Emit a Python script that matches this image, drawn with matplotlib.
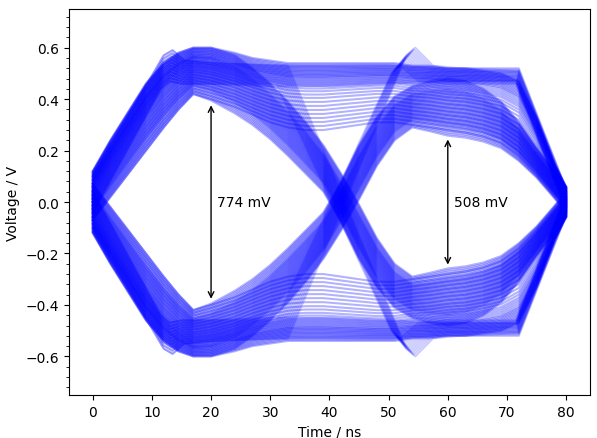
import matplotlib
matplotlib.use("Agg")
import matplotlib.pyplot as plt
from matplotlib.ticker import AutoMinorLocator

# eye diagram, two bit periods (0-80 ns), upper traces only, lower half is the mirror

# curved rise / fall at 42 ns (two edge traces: early crossing + late crossing)
T_HL = [0, 3, 6, 9, 12, 14.5, 17, 20, 24, 27, 30, 33, 36, 39, 42, 45, 48, 51, 54, 57, 60, 63, 66, 69, 72, 75, 78, 80]
V_HL_EARLY = [-0.07, 0.02, 0.11, 0.20, 0.29, 0.36, 0.42, 0.395, 0.345, 0.30, 0.245, 0.18, 0.11, 0.04,
              -0.08, -0.22, -0.33, -0.41, -0.45, -0.47, -0.48, -0.47, -0.44, -0.39, -0.31, -0.21, -0.12, -0.06]
V_HL_LATE = [0.12, 0.24, 0.35, 0.46, 0.54, 0.58, 0.60, 0.60, 0.57, 0.52, 0.46, 0.39, 0.31, 0.22,
             0.11, -0.01, -0.14, -0.24, -0.29, -0.275, -0.258, -0.25, -0.235, -0.21, -0.16, -0.095, -0.015, 0.04]

# curved, stays high through the middle (sag around 40 ns)
V_HH_IN = [-0.07, 0.02, 0.11, 0.20, 0.29, 0.36, 0.42, 0.40, 0.37, 0.34, 0.31, 0.29, 0.28, 0.28,
           0.29, 0.30, 0.31, 0.31, 0.30, 0.29, 0.28, 0.27, 0.255, 0.23, 0.18, 0.11, 0.03, -0.02]
V_HH_OUT = [0.12, 0.24, 0.35, 0.46, 0.54, 0.58, 0.60, 0.60, 0.58, 0.56, 0.55, 0.54, 0.54, 0.54,
            0.54, 0.54, 0.54, 0.54, 0.53, 0.53, 0.52, 0.52, 0.51, 0.50, 0.47, 0.33, 0.15, 0.06]

# slew limited (straight) high-high
T_HHL_A = [0, 11.5, 13, 15, 20, 30, 40, 50, 60, 70, 71.5, 80]
V_HHL_A = [-0.04, 0.44, 0.47, 0.46, 0.46, 0.45, 0.45, 0.46, 0.47, 0.47, 0.47, -0.03]
T_HHL_B = [0, 12, 13.5, 15.5, 20, 30, 40, 50, 60, 70, 72, 80]
V_HHL_B = [0.10, 0.57, 0.59, 0.55, 0.54, 0.53, 0.53, 0.53, 0.52, 0.52, 0.52, 0.05]

# slew limited high-low
T_HLL_A = [0, 11.5, 13, 15, 20, 31, 50.5, 52, 55, 60, 71.5, 80]
V_HLL_A = [-0.04, 0.44, 0.47, 0.46, 0.46, 0.46, -0.50, -0.53, -0.47, -0.46, -0.46, 0.03]
T_HLL_B = [0, 12, 13.5, 15.5, 20, 33, 53, 54.5, 57.5, 62, 72, 80]
V_HLL_B = [0.10, 0.57, 0.59, 0.55, 0.54, 0.53, -0.57, -0.60, -0.53, -0.52, -0.51, -0.05]

# position (in %) of each trace between the two edge traces
W_HL = [0, 3, 6, 9, 12, 15, 18, 20, 22, 24, 26, 28, 30, 32, 34, 36, 38, 40, 42, 44, 46, 48, 50,
        52, 54, 56, 58, 60, 62, 64, 66, 68, 70, 72, 74, 76, 78, 80, 82, 85, 88, 91, 94, 97, 100]
W_HH = [0, 6, 12, 18, 24, 30, 36, 42, 48, 53, 58, 62, 66, 69, 72, 75, 78, 80, 82, 84, 86, 88,
        90, 92, 94, 96, 98, 100]
W_LINEAR = [0, 10, 20, 30, 40, 50, 60, 70, 80, 90, 100]

# eye openings
EYE_T = [20, 60]
EYE_MV = [774, 508]


def blend(a, b, pct):
    w = pct / 100
    return [x + w * (y - x) for x, y in zip(a, b)]


families = [
    (T_HL, V_HL_EARLY, T_HL, V_HL_LATE, W_HL, 0.3),
    (T_HL, V_HH_IN, T_HL, V_HH_OUT, W_HH, 0.3),
    (T_HHL_A, V_HHL_A, T_HHL_B, V_HHL_B, W_LINEAR, 0.25),
    (T_HLL_A, V_HLL_A, T_HLL_B, V_HLL_B, W_LINEAR, 0.2),
]

fig = plt.figure(figsize=(5.97, 4.39), dpi=100)
ax = fig.add_axes([0.1156, 0.098, 0.8724, 0.879])

for ta, va, tb, vb, weights, a in families:
    for w in weights:
        t = blend(ta, tb, w)
        v = blend(va, vb, w)
        ax.plot(t, v, color='blue', lw=1.5, alpha=a)
        ax.plot(t, [-x for x in v], color='blue', lw=1.5, alpha=a)

for t, mv in zip(EYE_T, EYE_MV):
    h = mv / 2000
    ax.annotate('', xy=(t, h), xytext=(t, -h),
                arrowprops=dict(arrowstyle='<->', color='black', lw=1))
    ax.text(t + 1, 0, f'{mv} mV', va='center', ha='left', fontsize=10)

ax.set_xlim(-4, 84)
ax.set_ylim(-0.75, 0.75)
ax.set_xticks([0, 10, 20, 30, 40, 50, 60, 70, 80])
ax.set_yticks([-0.6, -0.4, -0.2, 0.0, 0.2, 0.4, 0.6])
ax.yaxis.set_minor_locator(AutoMinorLocator(5))
ax.set_xlabel('Time / ns')
ax.set_ylabel('Voltage / V')

fig.savefig('out.png', dpi=100)
